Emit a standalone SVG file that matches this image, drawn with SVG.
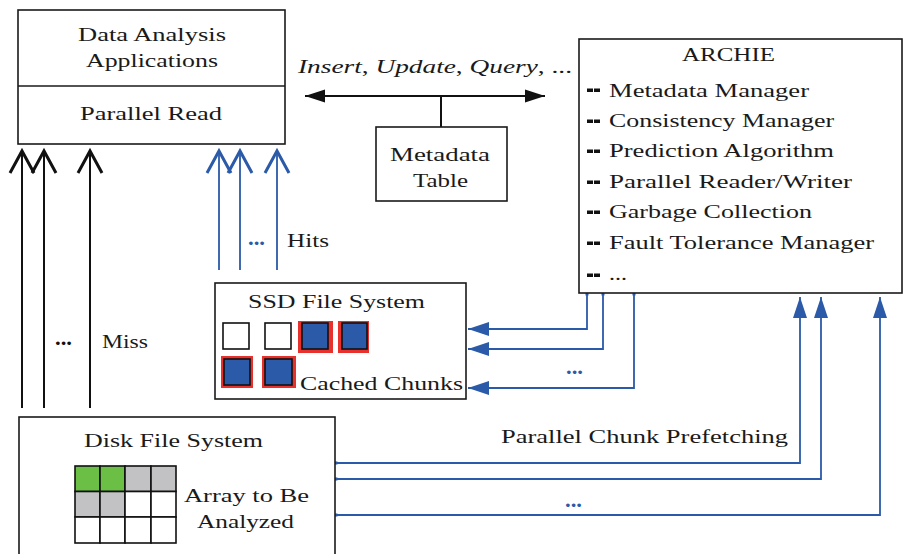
<svg xmlns="http://www.w3.org/2000/svg" width="903" height="554" viewBox="0 0 903 554">
<style>
text{font-family:"Liberation Serif","Times New Roman",serif;font-size:19px;fill:#1a1a1a}
.box{fill:#fff;stroke:#1a1a1a;stroke-width:1.6}
.blk{fill:none;stroke:#111;stroke-width:2}
.blu{fill:none;stroke:#2b5aa8;stroke-width:1.8}
.bdots{fill:#2b5aa8;font-weight:bold;font-size:22px}
.kdots{fill:#111;font-weight:bold;font-size:22px}
.red{fill:#e8302c}
.sq{fill:#2b5aa8;stroke:#111;stroke-width:1.6}
.wsq{fill:#fff;stroke:#111;stroke-width:1.6}
.cell{stroke:#111;stroke-width:1.6}
.dash{fill:#111}
</style>
<defs>
<marker id="chevK" markerUnits="userSpaceOnUse" orient="auto" refX="0" refY="0" markerWidth="40" markerHeight="40" overflow="visible"><path d="M-22,-12 L0,0 L-22,12" fill="none" stroke="#111" stroke-width="3"/></marker>
<marker id="chevB" markerUnits="userSpaceOnUse" orient="auto" refX="0" refY="0" markerWidth="40" markerHeight="40" overflow="visible"><path d="M-22,-12 L0,0 L-22,12" fill="none" stroke="#2b5aa8" stroke-width="3"/></marker>
<marker id="triK" markerUnits="userSpaceOnUse" orient="auto" refX="0" refY="0" markerWidth="40" markerHeight="40" overflow="visible"><path d="M-20,-6.5 L0,0 L-20,6.5 Z" fill="#111"/></marker>
<marker id="triB" markerUnits="userSpaceOnUse" orient="auto" refX="0" refY="0" markerWidth="40" markerHeight="40" overflow="visible"><path d="M-21,-7 L0,0 L-21,7 Z" fill="#2b5aa8"/></marker>
<marker id="dotB" markerUnits="userSpaceOnUse" orient="auto" refX="0" refY="0" markerWidth="10" markerHeight="10" overflow="visible"><rect x="-1.5" y="-1.5" width="3" height="3" fill="#2b5aa8"/></marker>
</defs>

<g id="connectors">
<path class="blk" d="M22,408 V151" marker-end="url(#chevK)"/>
<path class="blk" d="M44,408 V151" marker-end="url(#chevK)"/>
<path class="blk" d="M90,408 V151" marker-end="url(#chevK)"/>
<path class="blu" d="M219,270 V151" marker-end="url(#chevB)"/>
<path class="blu" d="M240,270 V151" marker-end="url(#chevB)"/>
<path class="blu" d="M277,270 V151" marker-end="url(#chevB)"/>
<path class="blk" d="M441,96 H305" marker-end="url(#triK)"/>
<path class="blk" d="M441,96 H545" marker-end="url(#triK)"/>
<path class="blk" d="M441,96 V127"/>
<path class="blu" d="M587,294 V329 H468" marker-start="url(#dotB)" marker-end="url(#triB)"/>
<path class="blu" d="M603,294 V349 H468" marker-start="url(#dotB)" marker-end="url(#triB)"/>
<path class="blu" d="M634,294 V388 H468" marker-start="url(#dotB)" marker-end="url(#triB)"/>
<path class="blu" d="M336,463 H800 V297" marker-start="url(#dotB)" marker-end="url(#triB)"/>
<path class="blu" d="M336,479 H821 V297" marker-start="url(#dotB)" marker-end="url(#triB)"/>
<path class="blu" d="M336,515 H880 V297" marker-start="url(#dotB)" marker-end="url(#triB)"/>
<text class="kdots" x="55" y="345" textLength="17" lengthAdjust="spacingAndGlyphs">...</text>
<text x="102" y="348" textLength="46" lengthAdjust="spacingAndGlyphs">Miss</text>
<text class="bdots" x="248" y="245" textLength="17" lengthAdjust="spacingAndGlyphs">...</text>
<text x="287" y="247" textLength="42" lengthAdjust="spacingAndGlyphs">Hits</text>
<text class="bdots" x="566" y="374" textLength="17" lengthAdjust="spacingAndGlyphs">...</text>
<text class="bdots" x="565" y="507" textLength="17" lengthAdjust="spacingAndGlyphs">...</text>
<text x="501" y="443" textLength="287" lengthAdjust="spacingAndGlyphs">Parallel Chunk Prefetching</text>
<text x="298" y="73" textLength="274" lengthAdjust="spacingAndGlyphs"><tspan font-style="italic">Insert</tspan>, <tspan font-style="italic">Update</tspan>, <tspan font-style="italic">Query</tspan>, ...</text>
</g>

<g id="apps">
<rect class="box" x="18" y="10" width="267" height="134"/>
<line x1="18" y1="86" x2="285" y2="86" stroke="#1a1a1a" stroke-width="1.6"/>
<text x="78" y="41" textLength="148" lengthAdjust="spacingAndGlyphs">Data Analysis</text>
<text x="86" y="67" textLength="132" lengthAdjust="spacingAndGlyphs">Applications</text>
<text x="80" y="120" textLength="142" lengthAdjust="spacingAndGlyphs">Parallel Read</text>
</g>

<g id="metadata-table">
<rect class="box" x="376" y="127" width="131" height="74"/>
<text x="390" y="161" textLength="100" lengthAdjust="spacingAndGlyphs">Metadata</text>
<text x="413" y="187" textLength="55" lengthAdjust="spacingAndGlyphs">Table</text>
</g>

<g id="archie">
<rect class="box" x="579" y="39" width="323" height="254"/>
<text x="682" y="61" textLength="93" lengthAdjust="spacingAndGlyphs">ARCHIE</text>
<g class="dash">
<rect x="587" y="88.5" width="6" height="3.5"/><rect x="594" y="88.5" width="6" height="3.5"/>
<rect x="587" y="119.5" width="6" height="3.5"/><rect x="594" y="119.5" width="6" height="3.5"/>
<rect x="587" y="149.5" width="6" height="3.5"/><rect x="594" y="149.5" width="6" height="3.5"/>
<rect x="587" y="180.5" width="6" height="3.5"/><rect x="594" y="180.5" width="6" height="3.5"/>
<rect x="587" y="210.5" width="6" height="3.5"/><rect x="594" y="210.5" width="6" height="3.5"/>
<rect x="587" y="241.5" width="6" height="3.5"/><rect x="594" y="241.5" width="6" height="3.5"/>
<rect x="587" y="273.5" width="6" height="3.5"/><rect x="594" y="273.5" width="6" height="3.5"/>
</g>
<text x="609" y="97" textLength="200" lengthAdjust="spacingAndGlyphs">Metadata Manager</text>
<text x="609" y="127" textLength="225" lengthAdjust="spacingAndGlyphs">Consistency Manager</text>
<text x="609" y="157" textLength="225" lengthAdjust="spacingAndGlyphs">Prediction Algorithm</text>
<text x="609" y="188" textLength="243" lengthAdjust="spacingAndGlyphs">Parallel Reader/Writer</text>
<text x="609" y="218" textLength="203" lengthAdjust="spacingAndGlyphs">Garbage Collection</text>
<text x="609" y="249" textLength="265" lengthAdjust="spacingAndGlyphs">Fault Tolerance Manager</text>
<text x="609" y="280" textLength="18" lengthAdjust="spacingAndGlyphs">...</text>
</g>

<g id="ssd">
<rect class="box" x="215" y="283" width="251" height="116"/>
<text x="248" y="308" textLength="177" lengthAdjust="spacingAndGlyphs">SSD File System</text>
<rect class="wsq" x="223" y="323" width="26" height="26"/>
<rect class="wsq" x="265" y="323" width="26" height="26"/>
<rect class="red" x="298" y="321" width="35" height="32"/>
<rect class="sq" x="302" y="323" width="26" height="26"/>
<rect class="red" x="338" y="321" width="31" height="32"/>
<rect class="sq" x="342" y="323" width="25" height="26"/>
<rect class="red" x="221" y="356" width="32" height="32"/>
<rect class="sq" x="224" y="359" width="26" height="26"/>
<rect class="red" x="262" y="356" width="34" height="32"/>
<rect class="sq" x="265" y="359" width="27" height="26"/>
<text x="300" y="390" textLength="163" lengthAdjust="spacingAndGlyphs">Cached Chunks</text>
</g>

<g id="disk">
<rect class="box" x="19" y="417" width="316" height="150"/>
<text x="84" y="447" textLength="179" lengthAdjust="spacingAndGlyphs">Disk File System</text>
<g class="cell">
<rect x="75" y="466" width="25" height="25.5" fill="#6bbf45"/>
<rect x="100" y="466" width="25" height="25.5" fill="#6bbf45"/>
<rect x="125" y="466" width="26" height="25.5" fill="#c2c2c4"/>
<rect x="151" y="466" width="25" height="25.5" fill="#c2c2c4"/>
<rect x="75" y="491.5" width="25" height="25.5" fill="#c2c2c4"/>
<rect x="100" y="491.5" width="25" height="25.5" fill="#c2c2c4"/>
<rect x="125" y="491.5" width="26" height="25.5" fill="#fff"/>
<rect x="151" y="491.5" width="25" height="25.5" fill="#fff"/>
<rect x="75" y="517" width="25" height="26" fill="#fff"/>
<rect x="100" y="517" width="25" height="26" fill="#fff"/>
<rect x="125" y="517" width="26" height="26" fill="#fff"/>
<rect x="151" y="517" width="25" height="26" fill="#fff"/>
</g>
<text x="184" y="502" textLength="125" lengthAdjust="spacingAndGlyphs">Array to Be</text>
<text x="197" y="528" textLength="97" lengthAdjust="spacingAndGlyphs">Analyzed</text>
</g>
</svg>
